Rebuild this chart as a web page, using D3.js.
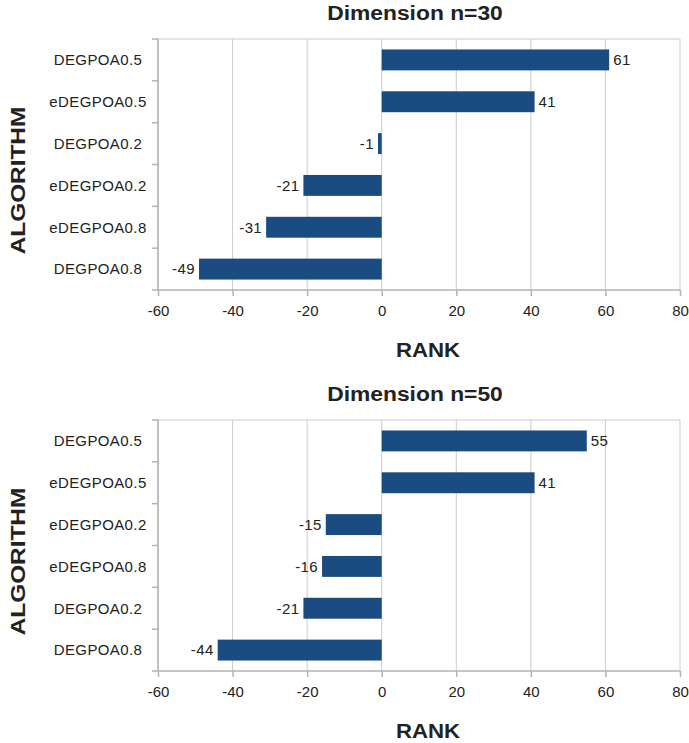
<!DOCTYPE html>
<html>
<head>
<meta charset="utf-8">
<script src="https://cdn.jsdelivr.net/npm/d3@7"></script>
<style>
body { margin: 0; background: #fff; }
text { font-family: "Liberation Sans", Arial, sans-serif; }
</style>
</head>
<body>
<script>
var titles = ["Dimension n=30", "Dimension n=50"];
var algos30 = ["DEGPOA0.5", "eDEGPOA0.5", "DEGPOA0.2", "eDEGPOA0.2", "eDEGPOA0.8", "DEGPOA0.8"];
var ranks30 = [61, 41, -1, -21, -31, -49];
var algos50 = ["DEGPOA0.5", "eDEGPOA0.5", "eDEGPOA0.2", "eDEGPOA0.8", "DEGPOA0.2", "DEGPOA0.8"];
var ranks50 = [55, 41, -15, -16, -21, -44];
var xTicks = [-60, -40, -20, 0, 20, 40, 60, 80];

var outerWidth = 689;
var outerHeight = 743;
var marginLeft = 158;
var plotRight = 680;
var plotHeight = 251;
var barColor = "#1a4c82";
var gridColor = "#cccccc";
var axisColor = "#b3b3b3";
var textColor = "#222";

var svg = d3.select("body").append("svg")
    .attr("width", outerWidth)
    .attr("height", outerHeight);

var x = d3.scaleLinear()
    .domain([-60, 80])
    .range([marginLeft, plotRight]);

function drawChart(top, title, algos, ranks) {
    var data = algos.map(function(a, i) { return { algo: a, rank: ranks[i] }; });
    var y = d3.scaleBand()
        .domain(algos)
        .range([top, top + plotHeight])
        .paddingInner(0.5)
        .paddingOuter(0.25);

    var g = svg.append("g");

    // gridlines
    g.selectAll("line.grid")
        .data(xTicks)
        .enter()
        .append("line")
        .attr("class", "grid")
        .attr("x1", function(d) { return x(d); })
        .attr("x2", function(d) { return x(d); })
        .attr("y1", top)
        .attr("y2", top + plotHeight)
        .attr("stroke", gridColor)
        .attr("stroke-width", 1);

    // top border
    g.append("line")
        .attr("x1", marginLeft).attr("x2", plotRight)
        .attr("y1", top).attr("y2", top)
        .attr("stroke", gridColor);

    // bars
    g.selectAll("rect.bar")
        .data(data)
        .enter()
        .append("rect")
        .attr("class", "bar")
        .attr("x", function(d) { return x(Math.min(0, d.rank)); })
        .attr("width", function(d) { return Math.abs(x(d.rank) - x(0)); })
        .attr("y", function(d) { return y(d.algo); })
        .attr("height", y.bandwidth())
        .attr("fill", barColor);

    // value labels
    g.selectAll("text.val")
        .data(data)
        .enter()
        .append("text")
        .attr("class", "val")
        .attr("x", function(d) { return d.rank >= 0 ? x(d.rank) + 4 : x(d.rank) - 4; })
        .attr("y", function(d) { return y(d.algo) + y.bandwidth() / 2; })
        .attr("dy", "0.35em")
        .attr("text-anchor", function(d) { return d.rank >= 0 ? "start" : "end"; })
        .attr("font-size", 15)
        .attr("letter-spacing", 0.4)
        .attr("fill", textColor)
        .text(function(d) { return d.rank; });

    // x axis
    var xAxis = g.append("g")
        .attr("transform", "translate(0," + (top + plotHeight) + ")")
        .call(d3.axisBottom(x).tickValues(xTicks).tickSize(6).tickPadding(9)
            .tickFormat(function(d) { return String(d); }));
    xAxis.select(".domain").attr("stroke", axisColor).attr("stroke-width", 1.5)
        .attr("d", "M" + (marginLeft - 6) + ",0H" + plotRight);
    xAxis.selectAll(".tick line").attr("stroke", axisColor).attr("stroke-width", 1.5);
    xAxis.selectAll(".tick text")
        .attr("font-size", 15)
        .attr("fill", textColor)
        .style("font-family", "Liberation Sans, Arial, sans-serif");

    // y axis line and separators
    g.append("line")
        .attr("x1", marginLeft).attr("x2", marginLeft)
        .attr("y1", top).attr("y2", top + plotHeight)
        .attr("stroke", axisColor).attr("stroke-width", 1.5);
    var seps = d3.range(algos.length).map(function(i) { return top + i * plotHeight / algos.length; });
    g.selectAll("line.sep")
        .data(seps)
        .enter()
        .append("line")
        .attr("class", "sep")
        .attr("x1", marginLeft - 6).attr("x2", marginLeft)
        .attr("y1", function(d) { return d; })
        .attr("y2", function(d) { return d; })
        .attr("stroke", axisColor).attr("stroke-width", 1.5);

    // category labels
    g.selectAll("text.cat")
        .data(algos)
        .enter()
        .append("text")
        .attr("class", "cat")
        .attr("x", 98)
        .attr("y", function(d) { return y(d) + y.bandwidth() / 2; })
        .attr("dy", "0.35em")
        .attr("text-anchor", "middle")
        .attr("font-size", 15)
        .attr("letter-spacing", 0.4)
        .attr("fill", textColor)
        .text(function(d) { return d; });

    // title (glyphs in the source are horizontally wide)
    g.append("text")
        .attr("transform", "translate(415," + (top - 19) + ") scale(1.17,1)")
        .attr("text-anchor", "middle")
        .attr("font-size", 19.5)
        .attr("font-weight", "bold")
        .attr("fill", textColor)
        .text(title);

    // axis titles
    g.append("text")
        .attr("transform", "translate(428," + (top + plotHeight + 67) + ") scale(1.14,1)")
        .attr("text-anchor", "middle")
        .attr("font-size", 19.5)
        .attr("font-weight", "bold")
        .attr("fill", textColor)
        .text("RANK");

    g.append("text")
        .attr("transform", "translate(25," + (top + plotHeight / 2 + 16) + ") rotate(-90) scale(1.25,1)")
        .attr("text-anchor", "middle")
        .attr("font-size", 19.5)
        .attr("font-weight", "bold")
        .attr("fill", textColor)
        .text("ALGORITHM");
}

drawChart(39, titles[0], algos30, ranks30);
drawChart(420, titles[1], algos50, ranks50);
</script>
</body>
</html>
